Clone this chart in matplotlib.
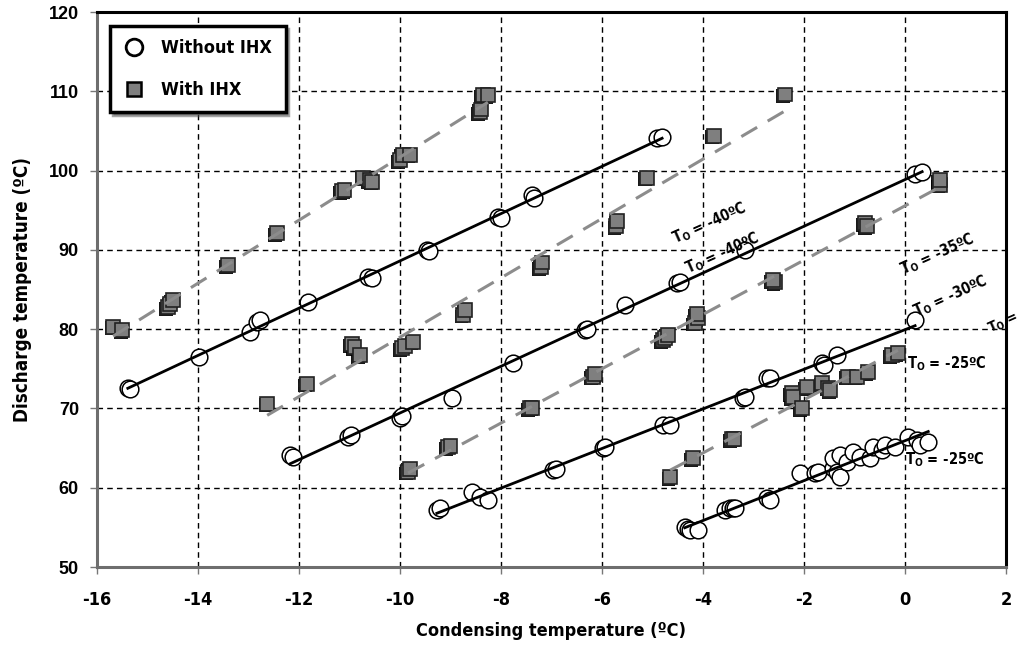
import numpy as np
import matplotlib
matplotlib.use("Agg")
from matplotlib import pyplot as plt
from matplotlib import font_manager as fm
from matplotlib.lines import Line2D
import matplotlib.patheffects as pe

# pick a narrow bold font (the original uses Arial Narrow); fall back to Liberation Sans
ttf = fm.fontManager.ttflist
if any(f.name == 'Liberation Sans Narrow' for f in ttf):
    FAM, STRETCH = 'Liberation Sans Narrow', 'normal'
elif any(f.name == 'DejaVu Sans' and f.stretch == 'condensed' for f in ttf):
    FAM, STRETCH = 'DejaVu Sans', 'condensed'
else:
    FAM, STRETCH = 'Liberation Sans', 'normal'
plt.rcParams['font.family'] = [FAM, 'DejaVu Sans']
plt.rcParams['font.stretch'] = STRETCH
plt.rcParams['font.weight'] = 'bold'
plt.rcParams['mathtext.fontset'] = 'custom'
plt.rcParams['mathtext.rm'] = f'{FAM}:weight=bold:stretch={STRETCH}'
plt.rcParams['mathtext.default'] = 'rm'

# ---- Without IHX (open circles), one group per evaporating temperature
woihx_1_x = [-15.39, -15.35, -13.98, -12.97, -12.83, -12.78, -11.82, -10.63, -10.55,
             -9.47, -9.42, -8.06, -8.0, -7.39, -7.35, -4.91, -4.81]
woihx_1_y = [72.6, 72.4, 76.5, 79.6, 80.9, 81.1, 83.4, 86.6, 86.5,
             90.0, 89.8, 94.1, 94.0, 96.9, 96.6, 104.1, 104.2]
woihx_2_x = [-12.18, -12.12, -11.03, -10.98, -10.0, -9.96, -8.97, -7.76, -6.34, -6.30,
             -5.54, -4.51, -4.46, -3.17, 0.20, 0.34]
woihx_2_y = [64.1, 63.9, 66.4, 66.6, 68.8, 69.0, 71.3, 75.7, 79.9, 80.0,
             83.0, 85.8, 85.9, 90.0, 99.6, 99.8]
woihx_3_x = [-9.27, -9.2, -8.57, -8.42, -8.26, -6.97, -6.92, -5.98, -5.94, -4.79, -4.65,
             -3.21, -3.16, -2.73, -2.67, -1.64, -1.60, -1.35, 0.20]
woihx_3_y = [57.2, 57.4, 59.5, 58.8, 58.4, 62.2, 62.3, 65.0, 65.1, 67.9, 67.9,
             71.3, 71.4, 73.8, 73.9, 75.7, 75.5, 76.7, 81.1]
woihx_4_x = [-4.36, -4.30, -4.26, -4.10, -3.56, -3.47, -3.41, -3.37, -2.73, -2.67, -2.08,
             -1.78, -1.72, -1.43, -1.43, -1.35, -1.29, -1.29, -1.15, -1.03, -0.89, -0.69,
             -0.63, -0.46, -0.40, -0.20, 0.06, 0.24, 0.30, 0.46]
woihx_4_y = [55.0, 54.8, 54.7, 54.7, 57.2, 57.4, 57.4, 57.4, 58.7, 58.4, 61.9,
             61.9, 62.0, 62.5, 63.7, 62.0, 64.1, 61.4, 63.2, 64.5, 63.9, 63.7,
             65.1, 64.8, 65.4, 65.1, 66.4, 66.0, 65.4, 65.8]

# ---- With IHX (grey squares)
wihx_1_x = [-15.68, -15.5, -14.6, -14.55, -14.5, -13.41, -12.44, -11.15, -11.1, -10.73,
            -10.6, -10.55, -10.0, -9.94, -9.8, -8.42, -8.4, -8.36, -8.26]
wihx_1_y = [80.3, 79.9, 82.8, 83.2, 83.7, 88.1, 92.1, 97.4, 97.5, 99.1,
            98.8, 98.6, 101.3, 102.0, 102.0, 107.4, 107.7, 109.5, 109.5]
wihx_2_x = [-12.63, -11.84, -10.95, -10.9, -10.8, -9.96, -9.9, -9.74, -8.75, -8.71,
            -7.21, -7.19, -5.72, -5.70, -5.11, -3.78, -2.38]
wihx_2_y = [70.6, 73.1, 78.1, 77.7, 76.7, 77.6, 77.9, 78.4, 81.8, 82.4,
            87.8, 88.4, 93.0, 93.6, 99.1, 104.4, 109.6]
wihx_3_x = [-9.84, -9.8, -9.05, -9.0, -7.43, -7.38, -6.18, -6.13, -4.79, -4.75, -4.70,
            -4.16, -4.10, -4.12, -2.57, -2.62, -0.79, -0.76, 0.69, 0.69]
wihx_3_y = [62.0, 62.4, 65.1, 65.3, 70.0, 70.1, 74.0, 74.3, 78.6, 78.9, 79.3,
            80.8, 81.4, 81.9, 85.9, 86.2, 93.4, 93.0, 98.2, 98.8]
wihx_4_x = [-4.65, -4.2, -3.43, -3.38, -2.24, -2.22, -2.04, -1.94, -1.64, -1.52, -1.48,
            -1.13, -0.95, -0.73, -0.26, -0.14]
wihx_4_y = [61.3, 63.7, 66.1, 66.2, 71.9, 71.4, 70.0, 72.7, 73.2, 72.6, 72.3,
            74.0, 74.0, 74.6, 76.7, 77.0]

# ---- evaporating temperature labels: text, x, y, rotation
to_labels = ['-40ºC', '-40ºC', '-35ºC', '-30ºC', '-25ºC', '-25ºC']
to_x = [-3.88, -3.62, 0.65, 0.91, 0.83, 0.79]
to_y = [93.4, 89.6, 89.5, 84.2, 75.7, 63.5]
to_rot = [24, 24, 24, 24, 0, 0]

x_ticks = np.arange(-16, 3, 2)
y_ticks = np.arange(50, 121, 10)

fig = plt.figure(figsize=(10.29, 6.57), dpi=100)
ax = fig.add_axes([97 / 1029, 90 / 657, 909 / 1029, 555 / 657])

shadow = [pe.SimplePatchShadow(offset=(-1.2, -1.2), shadow_rgbFace='black', alpha=0.9), pe.Normal()]


def fit_line(xs, ys, **kw):
    xs = np.asarray(xs)
    k, b = np.polyfit(xs, ys, 1)
    xx = np.array([xs.min(), xs.max()])
    ax.plot(xx, k * xx + b, zorder=5, **kw)


ihx = [(wihx_1_x, wihx_1_y), (wihx_2_x, wihx_2_y), (wihx_3_x, wihx_3_y), (wihx_4_x, wihx_4_y)]
no_ihx = [(woihx_1_x, woihx_1_y), (woihx_2_x, woihx_2_y), (woihx_3_x, woihx_3_y), (woihx_4_x, woihx_4_y)]

# markers
for gx, gy in ihx:
    ax.plot(gx, gy, ls='none', marker='s', ms=10, mfc='#7f7f7f', mec='#222222', mew=1.2,
            zorder=3, path_effects=shadow)
for gx, gy in no_ihx:
    ax.plot(gx, gy, ls='none', marker='o', ms=12, mfc='white', mec='black', mew=1.1, zorder=4)

# regression lines
for gx, gy in ihx:
    fit_line(gx, gy, color='#8c8c8c', lw=2.2, dashes=(6, 4))
for gx, gy in no_ihx:
    fit_line(gx, gy, color='black', lw=2.0)

for t, x, y, r in zip(to_labels, to_x, to_y, to_rot):
    ax.text(x, y, r'T$_{O}$ = ' + t, rotation=r, rotation_mode='anchor', ha='center', va='center',
            fontsize=10.5, fontweight='bold', zorder=6)
# label that runs into the right edge of the figure
ax.text(1.72, 79.0, r'T$_{O}$ =', rotation=24, rotation_mode='anchor', ha='left', va='bottom',
        fontsize=10, fontweight='bold', clip_on=False, zorder=6)

ax.set_xlim(-16, 2)
ax.set_ylim(50, 120)
ax.set_xticks(x_ticks)
ax.set_yticks(y_ticks)
ax.set_xticklabels([str(v) for v in x_ticks], fontsize=13, fontweight='bold')
ax.set_yticklabels([str(v) for v in y_ticks], fontsize=13, fontweight='bold',
                   family=['Liberation Sans', 'DejaVu Sans'], stretch='normal')
ax.tick_params(direction='out', length=5, width=1, color='#777777', pad=8)
ax.tick_params(axis='x', pad=12)

ax.grid(True, color='black', lw=1, dashes=(4, 3))
ax.set_axisbelow(True)

for s in ['top', 'right']:
    ax.spines[s].set_color('black')
    ax.spines[s].set_linewidth(2.2)
for s in ['left', 'bottom']:
    ax.spines[s].set_color('#6e6e6e')
    ax.spines[s].set_linewidth(2.2)

ax.set_xlabel('Condensing temperature (ºC)', fontsize=13, fontweight='bold', labelpad=10)
ax.set_ylabel('Discharge temperature (ºC)', fontsize=13.5, fontweight='bold', labelpad=12)

handles = [Line2D([], [], ls='none', marker='o', ms=12, mfc='white', mec='black', mew=2),
           Line2D([], [], ls='none', marker='s', ms=10, mfc='#7f7f7f', mec='black', mew=1.8)]
leg = ax.legend(handles, ['Without IHX', 'With IHX'], loc='upper left', bbox_to_anchor=(0.014, 0.975),
                borderaxespad=0, frameon=True, fancybox=False, shadow=True, edgecolor='black',
                prop={'size': 13, 'weight': 'bold', 'family': [FAM, 'DejaVu Sans'], 'stretch': STRETCH},
                labelspacing=1.3, handletextpad=0.9, borderpad=0.75, handlelength=1.2)
leg.get_frame().set_linewidth(2.5)
leg.set_zorder(10)

fig.savefig('out.png', dpi=100)
